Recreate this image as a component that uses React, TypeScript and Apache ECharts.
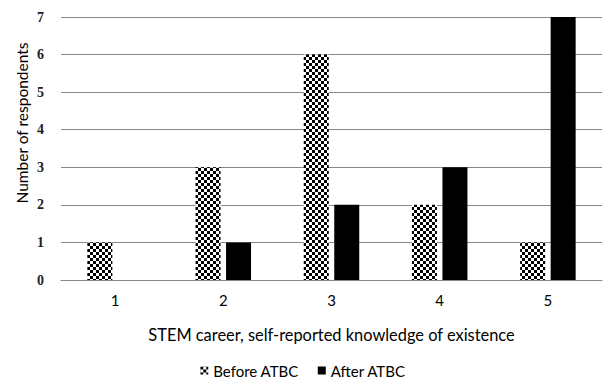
import React, { useEffect, useRef } from "react";
import * as echarts from "echarts";

const categories = ["1", "2", "3", "4", "5"];
const beforeValues = [1, 3, 6, 2, 1];
const afterValues = [0, 1, 2, 3, 7];
const seriesNames = ["Before ATBC", "After ATBC"];
const yTicks = [0, 1, 2, 3, 4, 5, 6, 7];

function checkerURL(): string {
  const c = document.createElement("canvas");
  c.width = 6;
  c.height = 6;
  const ctx = c.getContext("2d")!;
  ctx.fillStyle = "#ffffff";
  ctx.fillRect(0, 0, 6, 6);
  ctx.fillStyle = "#000000";
  ctx.fillRect(0, 0, 3, 3);
  ctx.fillRect(3, 3, 3, 3);
  return c.toDataURL();
}

export default function App() {
  const ref = useRef<HTMLDivElement>(null);
  useEffect(() => {
    document.body.style.margin = "0";
    const chart = echarts.init(ref.current!, null, { renderer: "svg" });
    const checker = { image: checkerURL(), repeat: "repeat" } as any;
    chart.setOption({
      animation: false,
      backgroundColor: "#ffffff",
      grid: { left: 61, right: 4, top: 17, bottom: 100, containLabel: false },
      legend: {
        bottom: 0,
        padding: [2, 5, 2, 5],
        left: "center",
        itemWidth: 8,
        itemHeight: 8,
        itemGap: 19,
        itemTextGap: 4,
        icon: "rect",
        data: seriesNames,
        textStyle: { fontFamily: "Lato", fontSize: 15, color: "#000" },
      },
      xAxis: {
        type: "category",
        data: categories,
        name: "STEM career, self-reported knowledge of existence",
        nameLocation: "middle",
        nameGap: 46,
        nameTextStyle: { fontFamily: "Lato", fontSize: 16.4, color: "#000" },
        axisLine: { lineStyle: { color: "#888", width: 1 } },
        axisTick: { show: false },
        axisLabel: { margin: 12, fontFamily: "Lato", fontSize: 15, color: "#000" },
      },
      yAxis: {
        type: "value",
        min: yTicks[0],
        max: yTicks[yTicks.length - 1],
        interval: 1,
        axisLine: { show: false },
        axisTick: { show: false },
        axisLabel: {
          margin: 17,
          fontFamily: "Liberation Serif",
          fontWeight: "bold",
          fontSize: 14,
          color: "#222",
        },
        splitLine: { lineStyle: { color: "#888", width: 1 } },
      },
      graphic: [
        {
          type: "text",
          x: 22,
          y: 123,
          rotation: Math.PI / 2,
          style: {
            text: "Number of respondents",
            font: '15.5px "Lato"',
            fill: "#000",
            align: "center",
            verticalAlign: "middle",
          },
        },
      ],
      series: [
        {
          name: seriesNames[0],
          type: "bar",
          data: beforeValues,
          barWidth: 25,
          barGap: "22%",
          itemStyle: { color: checker },
        },
        {
          name: seriesNames[1],
          type: "bar",
          data: afterValues,
          barWidth: 25,
          itemStyle: { color: "#000" },
        },
      ],
    });
    return () => chart.dispose();
  }, []);
  return <div ref={ref} style={{ width: 606, height: 380 }} />;
}
